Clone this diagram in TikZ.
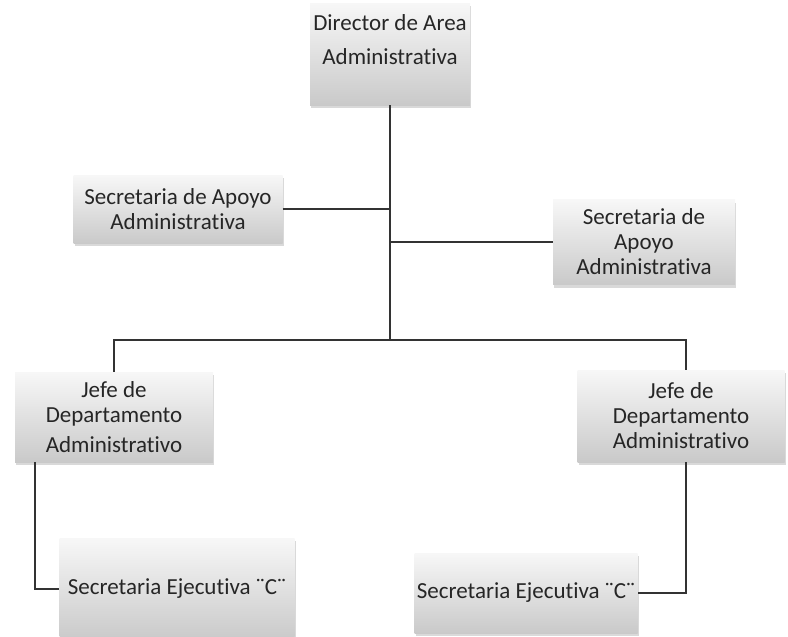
\documentclass[tikz,border=0pt]{standalone}
\usepackage{fontspec}
\setmainfont{Carlito}[Ligatures=NoCommon]
\usetikzlibrary{shadows}
\begin{document}
\begin{tikzpicture}[x=1pt,y=-1pt,
    caja/.style={top color=gray!6,bottom color=gray!42,
      drop shadow={shadow xshift=1pt,shadow yshift=-3pt,opacity=.3},
      align=center,font=\fontsize{23}{25}\selectfont,text=black!85,inner sep=2pt},
    linea/.style={line width=1.6pt,draw=black!80}]
    
    \useasboundingbox (0,0) rectangle (788,637);
    
    \node[caja,minimum width=160,minimum height=102,text depth=28pt] (dir) at (390,54) {Director de Area\\[9pt]Administrativa};
    \node[caja,minimum width=209,minimum height=68] (secL) at (178,209) {Secretaria de Apoyo\\Administrativa};
    \node[caja,minimum width=182,minimum height=85] (secR) at (644,242) {Secretaria de\\Apoyo\\Administrativa};
    \node[caja,minimum width=198,minimum height=90] (jefeL) at (114,417) {Jefe de\\Departamento\\[5pt]Administrativo};
    \node[caja,minimum width=207,minimum height=92] (jefeR) at (681,416) {Jefe de\\Departamento\\Administrativo};
    \node[caja,minimum width=235,minimum height=102] (ejL) at (177,589) {Secretaria Ejecutiva ¨C¨};
    \node[caja,minimum width=223,minimum height=80] (ejR) at (526,593) {Secretaria Ejecutiva ¨C¨};
    
    \coordinate (nudo) at (390,340);
    \draw[linea] (dir.south) -- (nudo);
    \draw[linea] (secL.east) -- (secL.east -| dir.south);
    \draw[linea] (secR.west) -- (secR.west -| dir.south);
    \draw[linea] (jefeL.north) |- (nudo) -| ([xshift=5]jefeR.north);
    \draw[linea] ([xshift=20]jefeL.south west) |- (ejL.west);
    \draw[linea] ([xshift=5]jefeR.south) |- (ejR.east);
    
\end{tikzpicture}
\end{document}
